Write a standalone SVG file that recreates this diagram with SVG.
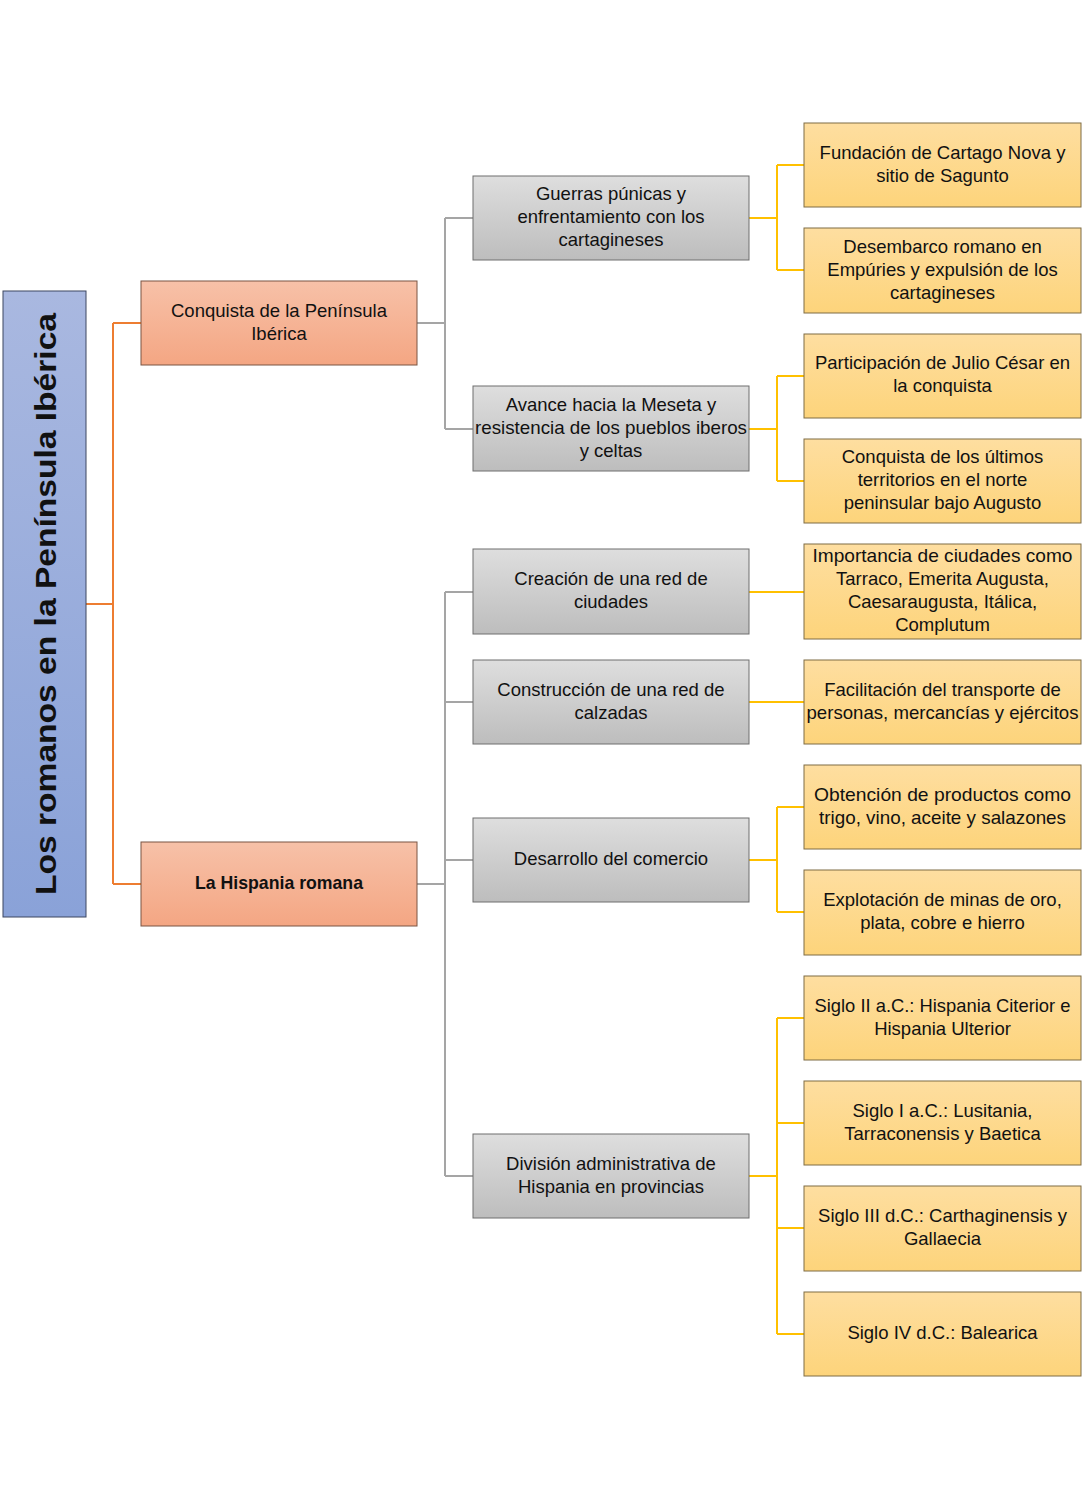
<svg xmlns="http://www.w3.org/2000/svg" width="1092" height="1500" viewBox="0 0 1092 1500">
<defs>
<linearGradient id="gRoot" x1="0" y1="0" x2="0" y2="1"><stop offset="0" stop-color="#a9b8e0"/><stop offset="1" stop-color="#8aa2d8"/></linearGradient>
<linearGradient id="gOr" x1="0" y1="0" x2="0" y2="1"><stop offset="0" stop-color="#f7c1a8"/><stop offset="1" stop-color="#f4a683"/></linearGradient>
<linearGradient id="gGr" x1="0" y1="0" x2="0" y2="1"><stop offset="0" stop-color="#dedede"/><stop offset="1" stop-color="#bdbdbd"/></linearGradient>
<linearGradient id="gYe" x1="0" y1="0" x2="0" y2="1"><stop offset="0" stop-color="#fedea0"/><stop offset="1" stop-color="#fdd47b"/></linearGradient>
</defs>
<style>
.root{fill:url(#gRoot);stroke:#3c4660;stroke-width:1}
.or{fill:url(#gOr);stroke:#7a5443;stroke-width:1}
.gr{fill:url(#gGr);stroke:#6e6e6e;stroke-width:1}
.ye{fill:url(#gYe);stroke:#7f6c45;stroke-width:1}
text{font-family:"Liberation Sans",Arial,sans-serif;font-size:18.5px;fill:#111;text-anchor:middle}
.b{font-weight:bold}
.c-or{fill:none;stroke:#ed7d31;stroke-width:2}
.c-gr{fill:none;stroke:#a5a5a5;stroke-width:2}
.c-ye{fill:none;stroke:#ffc000;stroke-width:2}
</style>
<rect width="1092" height="1500" fill="#fff"/>
<g id="connectors">
<path class="c-or" d="M86 604H113M113 323V884M113 323H141M113 884H141"/>
<path class="c-gr" d="M417 323H445M445 218V429M445 218H473M445 429H473"/>
<path class="c-gr" d="M417 884H445M445 592V1176M445 592H473M445 702H473M445 860H473M445 1176H473"/>
<path class="c-ye" d="M749 218H777M777 165V270M777 165H804M777 270H804"/>
<path class="c-ye" d="M749 429H777M777 376V481M777 376H804M777 481H804"/>
<path class="c-ye" d="M749 592H804M749 702H804"/>
<path class="c-ye" d="M749 860H777M777 807V912M777 807H804M777 912H804"/>
<path class="c-ye" d="M749 1176H777M777 1018V1334M777 1018H804M777 1123H804M777 1228H804M777 1334H804"/>
</g>
<g id="root"><rect class="root" x="3" y="291" width="83" height="626"/>
<text class="b" transform="translate(56 604) rotate(-90)" style="font-size:30px" textLength="582" lengthAdjust="spacingAndGlyphs">Los romanos en la Península Ibérica</text></g>
<g id="n-conquista"><rect class="or" x="141" y="281" width="276" height="84"/>
<text x="279" y="317">Conquista de la Península</text><text x="279" y="340">Ibérica</text></g>
<g id="n-hispania"><rect class="or" x="141" y="842" width="276" height="84"/>
<text class="b" x="279" y="889" textLength="168" lengthAdjust="spacingAndGlyphs">La Hispania romana</text></g>
<g id="n-guerras"><rect class="gr" x="473" y="176" width="276" height="84"/>
<text x="611" y="200">Guerras púnicas y</text><text x="611" y="223">enfrentamiento con los</text><text x="611" y="246">cartagineses</text></g>
<g id="n-avance"><rect class="gr" x="473" y="386" width="276" height="85"/>
<text x="611" y="411">Avance hacia la Meseta y</text><text x="611" y="434" textLength="272" lengthAdjust="spacingAndGlyphs">resistencia de los pueblos iberos</text><text x="611" y="457">y celtas</text></g>
<g id="n-creacion"><rect class="gr" x="473" y="549" width="276" height="85"/>
<text x="611" y="585">Creación de una red de</text><text x="611" y="608">ciudades</text></g>
<g id="n-construccion"><rect class="gr" x="473" y="660" width="276" height="84"/>
<text x="611" y="696">Construcción de una red de</text><text x="611" y="719">calzadas</text></g>
<g id="n-desarrollo"><rect class="gr" x="473" y="818" width="276" height="84"/>
<text x="611" y="865">Desarrollo del comercio</text></g>
<g id="n-division"><rect class="gr" x="473" y="1134" width="276" height="84"/>
<text x="611" y="1170">División administrativa de</text><text x="611" y="1193">Hispania en provincias</text></g>
<g id="n-fundacion"><rect class="ye" x="804" y="123" width="277" height="84"/>
<text x="942.5" y="159">Fundación de Cartago Nova y</text><text x="942.5" y="182">sitio de Sagunto</text></g>
<g id="n-desembarco"><rect class="ye" x="804" y="228" width="277" height="85"/>
<text x="942.5" y="253">Desembarco romano en</text><text x="942.5" y="276">Empúries y expulsión de los</text><text x="942.5" y="299">cartagineses</text></g>
<g id="n-participacion"><rect class="ye" x="804" y="334" width="277" height="84"/>
<text x="942.5" y="369">Participación de Julio César en</text><text x="942.5" y="392">la conquista</text></g>
<g id="n-ultimos"><rect class="ye" x="804" y="439" width="277" height="84"/>
<text x="942.5" y="463">Conquista de los últimos</text><text x="942.5" y="486">territorios en el norte</text><text x="942.5" y="509">peninsular bajo Augusto</text></g>
<g id="n-importancia"><rect class="ye" x="804" y="544" width="277" height="95"/>
<text x="942.5" y="562" textLength="260" lengthAdjust="spacingAndGlyphs">Importancia de ciudades como</text><text x="942.5" y="585">Tarraco, Emerita Augusta,</text><text x="942.5" y="608">Caesaraugusta, Itálica,</text><text x="942.5" y="631">Complutum</text></g>
<g id="n-facilitacion"><rect class="ye" x="804" y="660" width="277" height="84"/>
<text x="942.5" y="696">Facilitación del transporte de</text><text x="942.5" y="719" textLength="272" lengthAdjust="spacingAndGlyphs">personas, mercancías y ejércitos</text></g>
<g id="n-obtencion"><rect class="ye" x="804" y="765" width="277" height="84"/>
<text x="942.5" y="801" textLength="257" lengthAdjust="spacingAndGlyphs">Obtención de productos como</text><text x="942.5" y="824" textLength="247" lengthAdjust="spacingAndGlyphs">trigo, vino, aceite y salazones</text></g>
<g id="n-explotacion"><rect class="ye" x="804" y="870" width="277" height="85"/>
<text x="942.5" y="906">Explotación de minas de oro,</text><text x="942.5" y="929">plata, cobre e hierro</text></g>
<g id="n-sigloII"><rect class="ye" x="804" y="976" width="277" height="84"/>
<text x="942.5" y="1012" textLength="256" lengthAdjust="spacingAndGlyphs">Siglo II a.C.: Hispania Citerior e</text><text x="942.5" y="1035">Hispania Ulterior</text></g>
<g id="n-sigloI"><rect class="ye" x="804" y="1081" width="277" height="84"/>
<text x="942.5" y="1117">Siglo I a.C.: Lusitania,</text><text x="942.5" y="1140">Tarraconensis y Baetica</text></g>
<g id="n-sigloIII"><rect class="ye" x="804" y="1186" width="277" height="85"/>
<text x="942.5" y="1222">Siglo III d.C.: Carthaginensis y</text><text x="942.5" y="1245">Gallaecia</text></g>
<g id="n-sigloIV"><rect class="ye" x="804" y="1292" width="277" height="84"/>
<text x="942.5" y="1339">Siglo IV d.C.: Balearica</text></g>
</svg>
